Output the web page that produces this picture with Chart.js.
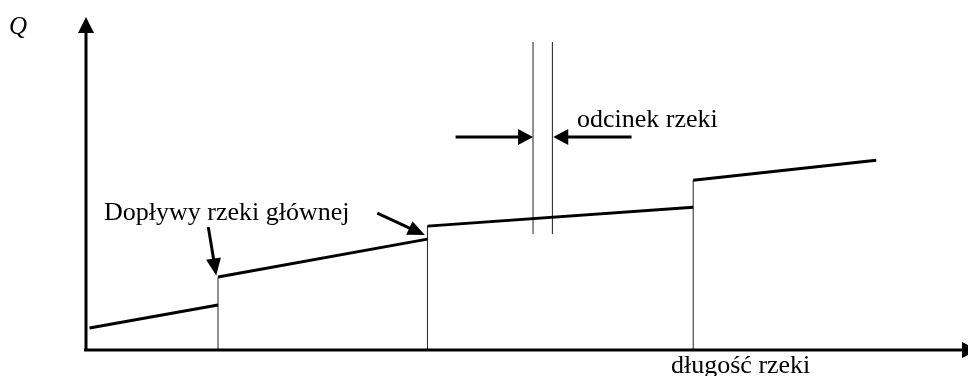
<!DOCTYPE html>
<html>
<head>
<meta charset="utf-8">
<script src="https://cdn.jsdelivr.net/npm/chart.js@4"></script>
<style>
  body { margin: 0; background: #fff; }
  canvas { display: block; }
</style>
</head>
<body>
<canvas id="chart" width="968" height="376"></canvas>
<script>
// river reaches between tributaries (distance along river, flow Q)
const reachStart = [0.4, 15.0, 38.8, 69.0];
const reachEnd = [15.0, 38.8, 69.0, 89.8];
const flowStart = [6.6, 21.9, 37.2, 51.0];
const flowEnd = [13.5, 33.3, 42.9, 57.0];

// tributary confluences (where the flow jumps)
const confluences = [15.0, 38.8, 69.0];

// the marked river section
const sectionBounds = [50.8, 53.0];
const sectionTop = 92.5;
const sectionBottom = 34.8;

// a point with y null breaks the line into pieces
const flowLine = [];
reachStart.forEach((x0, i) => {
  flowLine.push({ x: x0, y: flowStart[i] });
  flowLine.push({ x: reachEnd[i], y: flowEnd[i] });
  flowLine.push({ x: reachEnd[i], y: null });
});

const confluenceLines = [];
confluences.forEach((x, i) => {
  confluenceLines.push({ x: x, y: -1 });
  confluenceLines.push({ x: x, y: flowStart[i + 1] });
  confluenceLines.push({ x: x, y: null });
});

const sectionLines = [];
sectionBounds.forEach(x => {
  sectionLines.push({ x: x, y: sectionBottom });
  sectionLines.push({ x: x, y: sectionTop });
  sectionLines.push({ x: x, y: null });
});

function arrowHead(ctx, x1, y1, x2, y2, len, half) {
  const a = Math.atan2(y2 - y1, x2 - x1);
  ctx.beginPath();
  ctx.moveTo(x2, y2);
  ctx.lineTo(x2 - len * Math.cos(a) + half * Math.sin(a), y2 - len * Math.sin(a) - half * Math.cos(a));
  ctx.lineTo(x2 - len * Math.cos(a) - half * Math.sin(a), y2 - len * Math.sin(a) + half * Math.cos(a));
  ctx.closePath();
  ctx.fill();
}

function arrow(ctx, x1, y1, x2, y2, len, half, width) {
  const a = Math.atan2(y2 - y1, x2 - x1);
  ctx.lineWidth = width;
  ctx.beginPath();
  ctx.moveTo(x1, y1);
  ctx.lineTo(x2 - (len - 2) * Math.cos(a), y2 - (len - 2) * Math.sin(a));
  ctx.stroke();
  arrowHead(ctx, x1, y1, x2, y2, len, half);
}

const sketchPlugin = {
  id: 'sketch',
  afterDatasetsDraw(chart) {
    const { ctx, chartArea, scales } = chart;
    const sx = v => scales.x.getPixelForValue(v);
    const sy = v => scales.y.getPixelForValue(v);
    ctx.save();
    ctx.fillStyle = '#000';
    ctx.strokeStyle = '#000';

    // axes
    arrow(ctx, chartArea.left, chartArea.bottom, chartArea.left, chartArea.top, 16, 8, 3);
    arrow(ctx, chartArea.left - 2, chartArea.bottom, chartArea.right + 12, chartArea.bottom, 16, 8, 3);

    // pointer arrows
    arrow(ctx, sx(13.9), sy(36.9), sx(14.8), sy(22.4), 17, 7.5, 3);
    arrow(ctx, sx(33.1), sy(41.1), sx(38.5), sy(34.5), 17, 7.5, 3);
    arrow(ctx, sx(42.0), sy(64.0), sx(50.8), sy(64.0), 15, 8, 3);
    arrow(ctx, sx(62.0), sy(64.0), sx(53.1), sy(64.0), 15, 8, 3);

    // labels
    ctx.textBaseline = 'alphabetic';
    ctx.textAlign = 'left';
    ctx.font = 'italic 25px "Liberation Serif"';
    ctx.fillText('Q', 9, 34);
    ctx.font = '26px "Liberation Serif"';
    ctx.fillText('Dopływy rzeki głównej', 104, 220);
    ctx.fillText('odcinek rzeki', 577, 127);
    ctx.fillText('długość rzeki', 671, 373);
    ctx.restore();
  }
};

new Chart(document.getElementById('chart').getContext('2d'), {
  type: 'line',
  data: {
    datasets: [
      {
        data: flowLine,
        borderColor: '#000',
        borderWidth: 3,
        pointRadius: 0,
        spanGaps: false
      },
      {
        data: confluenceLines,
        borderColor: '#222',
        borderWidth: 1,
        pointRadius: 0,
        spanGaps: false
      },
      {
        data: sectionLines,
        borderColor: '#222',
        borderWidth: 1,
        pointRadius: 0,
        spanGaps: false
      }
    ]
  },
  options: {
    responsive: false,
    animation: false,
    devicePixelRatio: 1,
    layout: { padding: { left: 86, right: 2, top: 17, bottom: 26 } },
    plugins: {
      legend: { display: false },
      tooltip: { enabled: false }
    },
    scales: {
      x: { type: 'linear', min: 0, max: 100, display: false },
      y: { type: 'linear', min: 0, max: 100, display: false }
    }
  },
  plugins: [sketchPlugin]
});
</script>
</body>
</html>
